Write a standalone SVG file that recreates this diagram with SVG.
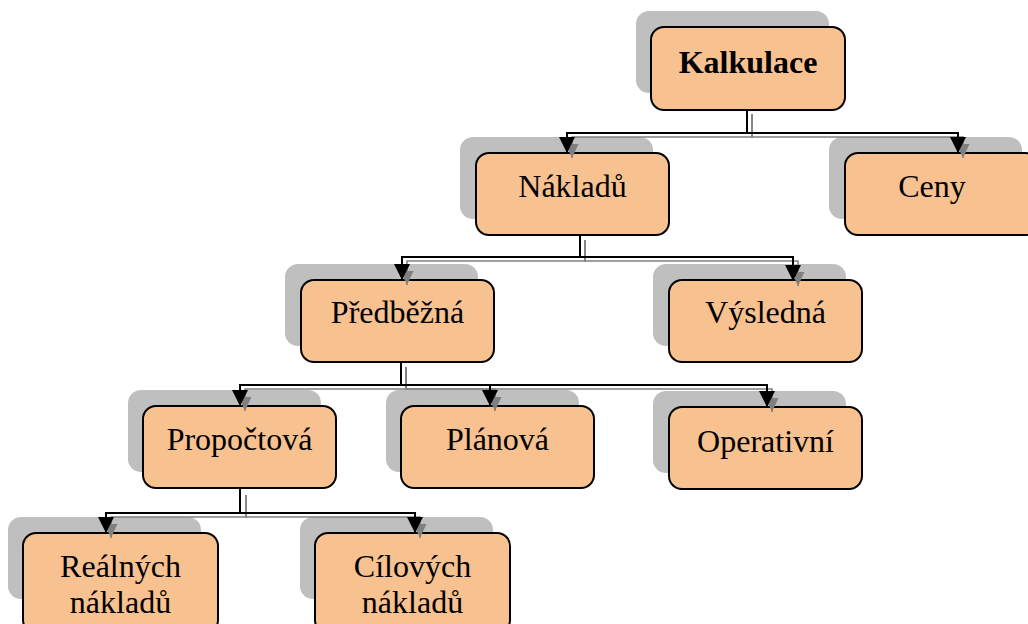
<svg xmlns="http://www.w3.org/2000/svg" width="1028" height="624" viewBox="0 0 1028 624">
<defs>
<marker id="ab" markerUnits="userSpaceOnUse" markerWidth="16" markerHeight="16" refX="16" refY="8" orient="auto" viewBox="0 0 16 16"><path d="M0,0 L16,8 L0,16 z" fill="#000"/></marker>
<marker id="ag" markerUnits="userSpaceOnUse" markerWidth="14" markerHeight="13" refX="14" refY="6.5" orient="auto" viewBox="0 0 14 13"><path d="M0,0 L14,6.5 L0,13 z" fill="#808080"/></marker>
</defs>
<style>
.sh{fill:#bfbfbf;}
.bx{fill:#f8c190;stroke:#000;stroke-width:2;}
.t{font-family:"Liberation Serif","Times New Roman",serif;font-size:32px;fill:#000;text-anchor:middle;}
.b{font-weight:bold;}
.cb{fill:none;stroke:#000;stroke-width:2;marker-end:url(#ab);}
.cg{fill:none;stroke:#808080;stroke-width:1.5;marker-end:url(#ag);}
</style>
<rect width="1028" height="624" fill="#fff"/>
<g id="shadows">
<rect class="sh" x="636" y="11" width="193" height="82" rx="13"/>
<rect class="sh" x="460" y="137" width="193" height="82" rx="13"/>
<rect class="sh" x="829" y="137" width="193" height="82" rx="13"/>
<rect class="sh" x="285" y="264" width="193" height="82" rx="13"/>
<rect class="sh" x="653" y="264" width="193" height="82" rx="13"/>
<rect class="sh" x="128" y="390" width="193" height="82" rx="13"/>
<rect class="sh" x="386" y="390" width="193" height="82" rx="13"/>
<rect class="sh" x="653" y="391" width="193" height="82" rx="13"/>
<rect class="sh" x="8" y="517" width="193" height="82" rx="13"/>
<rect class="sh" x="300" y="517" width="193" height="82" rx="13"/>
</g>
<g id="n-kalkulace"><rect class="bx" x="651" y="27" width="194" height="83" rx="13"/><text class="t b" x="748" y="73">Kalkulace</text></g>
<g id="n-naklady"><rect class="bx" x="476" y="153" width="193" height="82" rx="13"/><text class="t" x="572.5" y="197">Nákladů</text></g>
<g id="n-ceny"><rect class="bx" x="845" y="153" width="193" height="82" rx="13"/><text class="t" x="932" y="197">Ceny</text></g>
<g id="n-predbezna"><rect class="bx" x="301" y="280" width="193" height="82" rx="13"/><text class="t" x="397.5" y="323">Předběžná</text></g>
<g id="n-vysledna"><rect class="bx" x="669" y="280" width="193" height="82" rx="13"/><text class="t" x="765.5" y="323">Výsledná</text></g>
<g id="n-propoctova"><rect class="bx" x="143" y="406" width="193" height="82" rx="13"/><text class="t" x="239.5" y="450">Propočtová</text></g>
<g id="n-planova"><rect class="bx" x="401" y="406" width="193" height="82" rx="13"/><text class="t" x="497.5" y="450">Plánová</text></g>
<g id="n-operativni"><rect class="bx" x="669" y="407" width="193" height="82" rx="13"/><text class="t" x="765.5" y="452">Operativní</text></g>
<g id="n-realnych"><rect class="bx" x="23" y="533" width="195" height="100" rx="13"/><text class="t" x="120.5" y="577">Reálných</text><text class="t" x="120.5" y="613">nákladů</text></g>
<g id="n-cilovych"><rect class="bx" x="315" y="533" width="195" height="100" rx="13"/><text class="t" x="412.5" y="577">Cílových</text><text class="t" x="412.5" y="613">nákladů</text></g>
<g id="connectors">
<path class="cg" d="M752,114 V137 H572 V158"/>
<path class="cg" d="M752,114 V137 H963 V158"/>
<path class="cb" d="M747,110 V133 H567 V153"/>
<path class="cb" d="M747,110 V133 H958 V153"/>
<path class="cg" d="M585,240 V261 H407 V285"/>
<path class="cg" d="M585,240 V261 H798 V286"/>
<path class="cb" d="M580,235 V257 H402 V280"/>
<path class="cb" d="M580,235 V257 H793 V281"/>
<path class="cg" d="M406,367 V389 H245 V411"/>
<path class="cg" d="M406,367 V389 H495 V411"/>
<path class="cg" d="M406,367 V389 H772 V412"/>
<path class="cb" d="M401,362 V385 H240 V406"/>
<path class="cb" d="M401,362 V385 H490 V406"/>
<path class="cb" d="M401,362 V385 H767 V407"/>
<path class="cg" d="M246,495 V517 H111 V538"/>
<path class="cg" d="M246,495 V517 H420 V538"/>
<path class="cb" d="M240,488 V513 H106 V533"/>
<path class="cb" d="M240,488 V513 H415 V533"/>
</g>
</svg>
